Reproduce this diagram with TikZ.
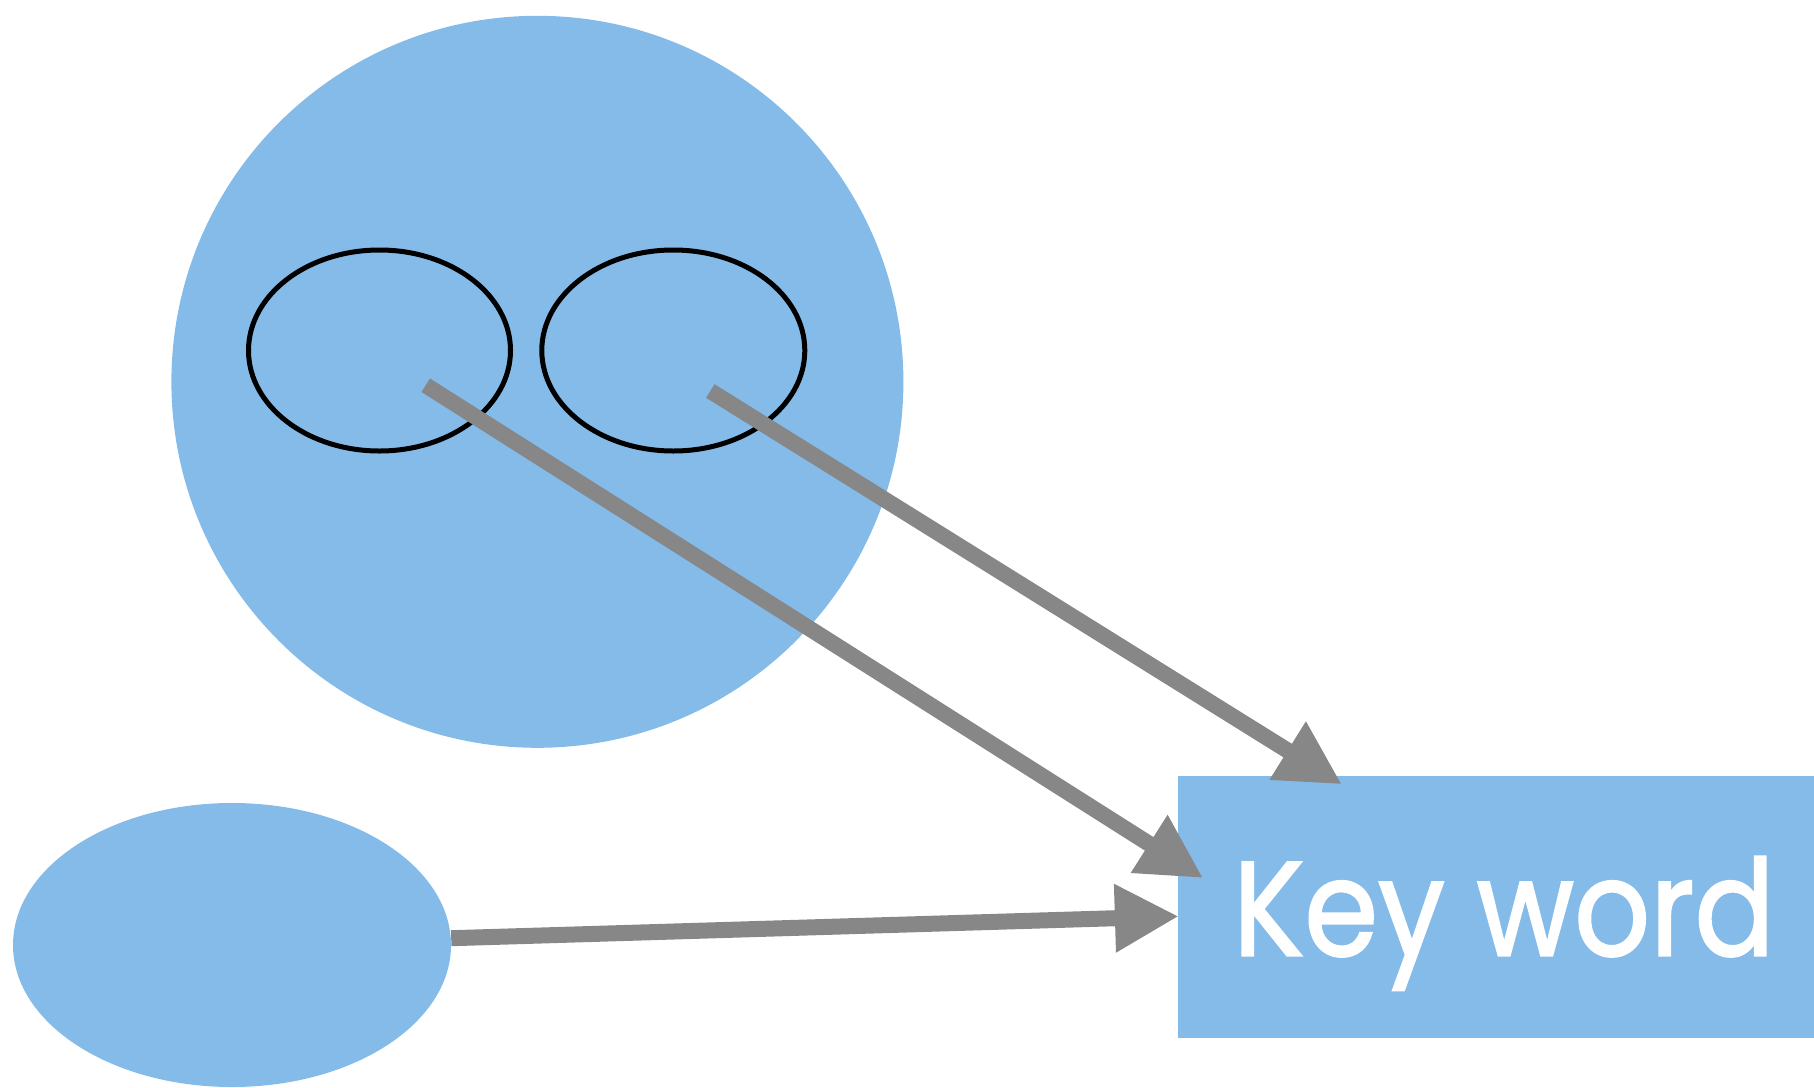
\documentclass[tikz,border=0pt]{standalone}
\usepackage{fontspec}
\setmainfont{Poppins}
\newfontfamily\kwfont{Poppins}[FakeBold=1.6]
\usetikzlibrary{shapes.geometric,arrows.meta}
\definecolor{skyblue}{RGB}{133,187,233}
\definecolor{arrowgray}{RGB}{135,135,135}
\tikzset{
  blob/.style={fill=skyblue,draw=none,inner sep=0pt},
  ring/.style={ellipse,draw=black,line width=5pt,inner sep=0pt},
  link/.style={draw=arrowgray,line width=16pt,-{Triangle[length=64pt,width=64pt]}}
}
\begin{document}
\begin{tikzpicture}[x=1pt,y=-1pt]
\useasboundingbox (0,0) rectangle (1814,1087);
% large circle holding the two outlined ellipses
\node[blob,circle,minimum size=732pt] (big) at (537.4,381.8) {};
\node[ring,minimum width=262pt,minimum height=201pt] (e1) at (379.5,350.5) {};
\node[ring,minimum width=263pt,minimum height=201pt] (e2) at (673.3,350.5) {};
% lower ellipse
\node[blob,ellipse,minimum width=438pt,minimum height=284pt] (low) at (232,945) {};
% keyword box and its label
\node[blob,rectangle,minimum width=652pt,minimum height=262pt] (kw) at (1504,907) {};
\node[anchor=base,inner sep=0pt,text=white,
      font=\kwfont\fontsize{134}{134}\selectfont] (kwlabel) at (1504,955.6)
      {\scalebox{0.887}[1]{Key word}};
% connector end points
\coordinate (s1) at (425.7,385.2);
\coordinate (t1) at (1203.2,878.1);
\coordinate (s2) at (710.3,391);
\coordinate (t2) at (1342,784.4);
\coordinate (s3) at (451.2,938.2);
\coordinate (t3) at (1178.9,916.3);
\draw[link] (s1) -- (t1);
\draw[link] (s2) -- (t2);
\draw[link] (s3) -- (t3);
\end{tikzpicture}
\end{document}
